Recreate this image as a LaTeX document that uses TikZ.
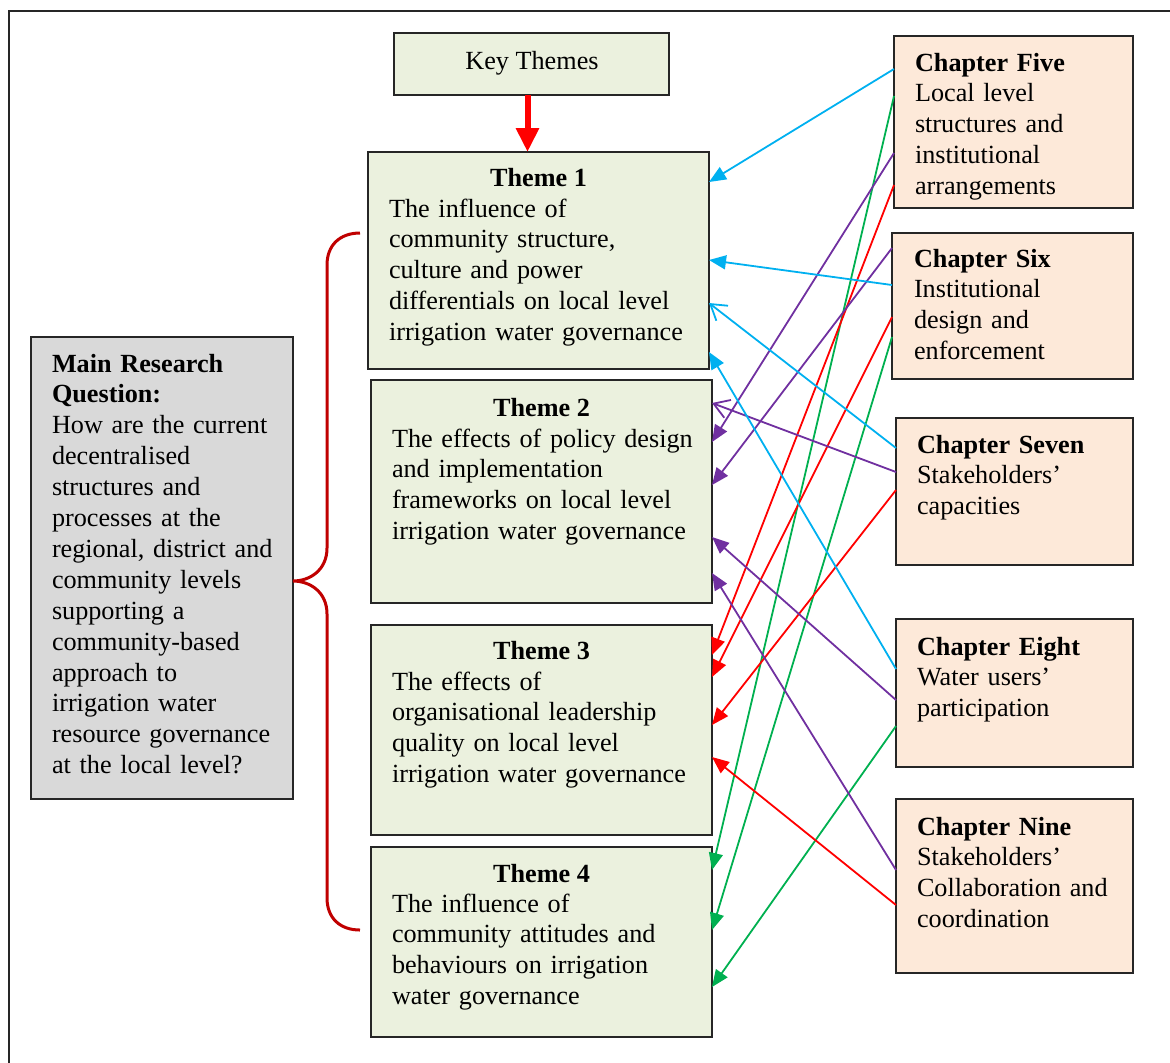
\documentclass[tikz,border=0pt]{standalone}
\usepackage{fontspec}
\setmainfont{Liberation Serif}
\usetikzlibrary{arrows.meta,calc}
\definecolor{themefill}{HTML}{EBF1DE}
\definecolor{chapfill}{HTML}{FDE9D9}
\definecolor{qfill}{HTML}{D9D9D9}
\definecolor{lcyan}{HTML}{00B0F0}
\definecolor{lpurple}{HTML}{7030A0}
\definecolor{lred}{HTML}{FF0000}
\definecolor{lgreen}{HTML}{00B050}
\definecolor{bracered}{HTML}{C00000}

\begin{document}
\begin{tikzpicture}[x=0.5pt,y=-0.5pt,
  every node/.style={inner sep=0pt, outer sep=0pt},
  boxline/.style={draw=black!85, line width=1pt, anchor=north west},
  themebox/.style={boxline, fill=themefill},
  chapbox/.style={boxline, fill=chapfill},
  qbox/.style={boxline, fill=qfill},
  bodytxt/.style={font=\fontsize{13.1}{15.45}\selectfont, anchor=base west, align=left, text width=170pt},
  ttl/.style={font=\fontsize{13.1}{15.45}\selectfont\bfseries, anchor=base},
  conn/.style={line width=0.9pt, -{Triangle[length=8.5pt,width=7pt]}},
  openconn/.style={line width=0.9pt, -{Straight Barb[length=7.5pt,width=9.5pt]}},
]
\useasboundingbox (0,0) rectangle (1170,1062);

% outer frame
\draw[black!85, line width=1pt] (9,11) rectangle (1200,1100);

% boxes
\node[themebox, minimum width=137.5pt, minimum height=31pt] (key) at (394,33) {};
\node[themebox, minimum width=170.5pt, minimum height=108.5pt] (t1) at (368,152) {};
\node[themebox, minimum width=170.5pt, minimum height=111.5pt] (t2) at (371,380) {};
\node[themebox, minimum width=170.5pt, minimum height=105pt] (t3) at (371,625) {};
\node[themebox, minimum width=170.5pt, minimum height=95pt] (t4) at (371,847) {};
\node[qbox, minimum width=131pt, minimum height=231pt] (mq) at (31,337) {};
\node[chapbox, minimum width=119.5pt, minimum height=86pt] (c5) at (894,36) {};
\node[chapbox, minimum width=120.5pt, minimum height=73pt] (c6) at (892,233) {};
\node[chapbox, minimum width=118.5pt, minimum height=73.5pt] (c7) at (896,418) {};
\node[chapbox, minimum width=118.5pt, minimum height=74pt] (c8) at (896,619) {};
\node[chapbox, minimum width=118.5pt, minimum height=87pt] (c9) at (896,799) {};

% texts
\node[font=\fontsize{13.1}{15.45}\selectfont, anchor=base] (keytxt) at (532,69) {Key Themes};

\node[ttl] (t1ttl) at (538.5,186) {Theme 1};
\node[bodytxt] (t1txt) at (389,217) {The influence of\\community structure,\\culture and power\\differentials on local level\\irrigation water governance};

\node[ttl] (t2ttl) at (541.5,416) {Theme 2};
\node[bodytxt] (t2txt) at (392,447) {The effects of policy design\\and implementation\\frameworks on local level\\irrigation water governance};

\node[ttl] (t3ttl) at (541.5,659) {Theme 3};
\node[bodytxt] (t3txt) at (392,690) {The effects of\\organisational leadership\\quality on local level\\irrigation water governance};

\node[ttl] (t4ttl) at (541.5,882) {Theme 4};
\node[bodytxt] (t4txt) at (392,912) {The influence of\\community attitudes and\\behaviours on irrigation\\water governance};

\node[bodytxt] (mqtxt) at (52,372) {\textbf{Main Research}\\\textbf{Question:}\\How are the current\\decentralised\\structures and\\processes at the\\regional, district and\\community levels\\supporting a\\community-based\\approach to\\irrigation water\\resource governance\\at the local level?};

\node[bodytxt] (c5txt) at (915,71) {\textbf{Chapter Five}\\Local level\\structures and\\institutional\\arrangements};
\node[bodytxt] (c6txt) at (914,267) {\textbf{Chapter Six}\\Institutional\\design and\\enforcement};
\node[bodytxt] (c7txt) at (917,453) {\textbf{Chapter Seven}\\Stakeholders’\\capacities};
\node[bodytxt] (c8txt) at (917,655) {\textbf{Chapter Eight}\\Water users’\\participation};
\node[bodytxt] (c9txt) at (917,835) {\textbf{Chapter Nine}\\Stakeholders’\\Collaboration and\\coordination};

% key themes arrow
\coordinate (ka) at ($(key.south)+(-4,0)$);
\draw[lred, line width=3pt, -{Triangle[length=12pt,width=11pt]}] (ka) -- (ka |- t1.north);

% brace grouping the themes
\draw[bracered, line width=1.5pt]
  (360,233) .. controls (340,233) and (327,245) .. (327,265) -- (327,548)
  .. controls (327,570) and (310,581) .. (293,581)
  .. controls (310,581) and (327,592) .. (327,614) -- (327,898)
  .. controls (327,918) and (340,930) .. (360,930);

% Chapter Five
\draw[conn, lcyan]   ($(c5.north west)+(0,33)$)  -- ($(t1.north east)+(0,30)$);
\draw[conn, lgreen]  ($(c5.north west)+(0,60)$)  -- ($(t4.north east)+(0,23)$);
\draw[conn, lpurple] ($(c5.north west)+(0,117)$) -- ($(t2.north east)+(0,62)$);
\draw[conn, lred]    ($(c5.north west)+(0,149)$) -- ($(t3.north east)+(0,30)$);
% Chapter Six
\draw[conn, lpurple] ($(c6.north west)+(0,15)$)  -- ($(t2.north east)+(0,105)$);
\draw[conn, lcyan]   ($(c6.north west)+(0,52)$)  -- ($(t1.north east)+(0,108)$);
\draw[conn, lred]    ($(c6.north west)+(0,84)$)  -- ($(t3.north east)+(0,52)$);
\draw[conn, lgreen]  ($(c6.north west)+(0,104)$) -- ($(t4.north east)+(0,83)$);
% Chapter Seven
\draw[openconn, lcyan]   ($(c7.north west)+(0,30)$) -- ($(t1.north east)+(0,151)$);
\draw[openconn, lpurple] ($(c7.north west)+(0,54)$) -- ($(t2.north east)+(0,23)$);
\draw[conn, lred]        ($(c7.north west)+(0,72)$) -- ($(t3.north east)+(0,100)$);
% Chapter Eight
\draw[conn, lcyan]   ($(c8.north west)+(0,50)$)  -- ($(t1.north east)+(0,200)$);
\draw[conn, lpurple] ($(c8.north west)+(0,81)$)  -- ($(t2.north east)+(0,157)$);
\draw[conn, lgreen]  ($(c8.north west)+(0,107)$) -- ($(t4.north east)+(0,140)$);
% Chapter Nine
\draw[conn, lpurple] ($(c9.north west)+(0,71)$)  -- ($(t2.north east)+(0,193)$);
\draw[conn, lred]    ($(c9.north west)+(0,106)$) -- ($(t3.north east)+(0,132)$);

\end{tikzpicture}
\end{document}
